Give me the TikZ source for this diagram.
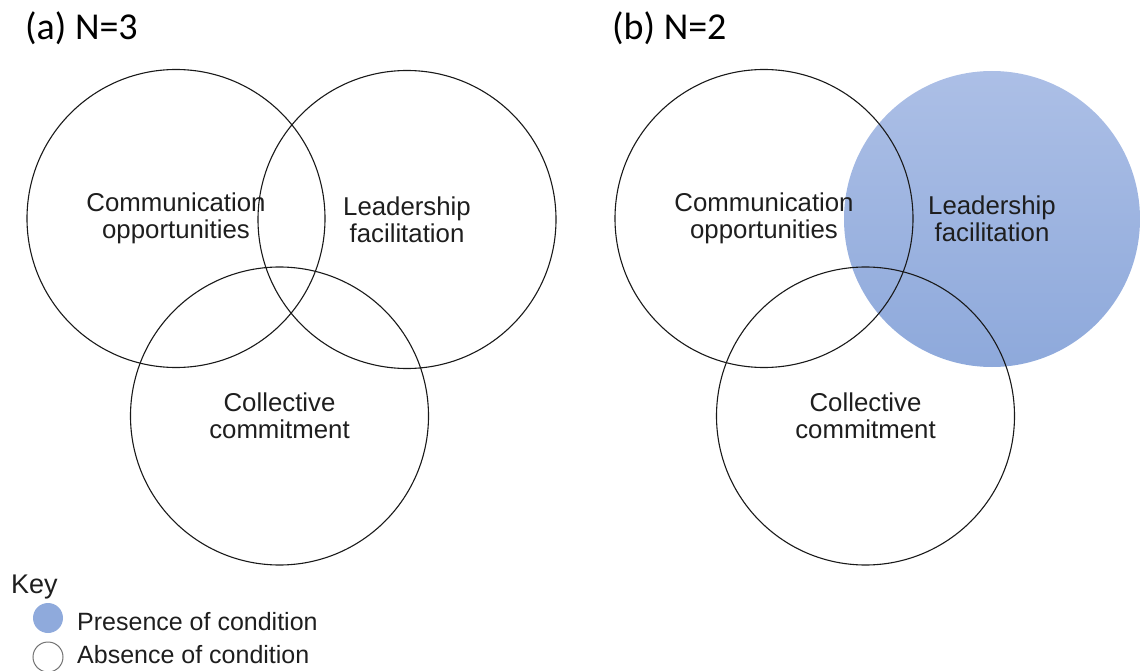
\documentclass[tikz,border=0pt]{standalone}
\usepackage{fontspec}
\setmainfont{Liberation Sans}
\newfontfamily\titlefont{Carlito}
\definecolor{txt}{HTML}{1E1E1E}
\definecolor{bluetop}{HTML}{ACBFE6}
\definecolor{bluebot}{HTML}{8EA9DB}
\definecolor{keyblue}{HTML}{8FAADC}
\begin{document}
\begin{tikzpicture}[x=1pt,y=-1pt,
  venn/.style={circle,draw=black!90,line width=1.1pt,minimum size=298pt,inner sep=0pt,
    text=txt,align=center,font=\fontsize{25.8}{27}\selectfont},
  filledvenn/.style={circle,minimum size=296pt,inner sep=0pt,top color=bluetop,bottom color=bluebot,draw=none,
    text=txt,align=center,font=\fontsize{25.8}{27}\selectfont},
  ttl/.style={anchor=base west,inner sep=0pt,font=\titlefont\fontsize{38}{40}\selectfont,text=black},
  keytxt/.style={anchor=base west,inner sep=0pt,font=\fontsize{25}{27}\selectfont,text=txt},
  keydot/.style={circle,minimum size=30pt,inner sep=0pt}]
\useasboundingbox (0,0) rectangle (1141,671);
% panel (a)
\node[ttl] (ta) at (25,40) {(a) N=3};
\node[venn] (a1) at (176,218.5) {Communication\\opportunities};
\node[venn] (a2) at (407,219.5) {Leadership\\facilitation};
\node[venn] (a3) at (279.5,416) {Collective\\commitment};
% panel (b)
\node[ttl] (tb) at (612,40) {(b) N=2};
\node[filledvenn] (b2) at (992,219) {Leadership\\facilitation};
\node[venn] (b1) at (764,218.5) {Communication\\opportunities};
\node[venn] (b3) at (865.5,416) {Collective\\commitment};
% key
\node[keytxt,font=\fontsize{27}{29}\selectfont] (key) at (11,593) {Key};
\node[keydot,fill=keyblue] (kp) at (48,618) {};
\node[keytxt] (kpt) at (77,630) {Presence of condition};
\node[keydot,draw=black!55,line width=1pt] (ka) at (48,657) {};
\node[keytxt] (kat) at (77,663) {Absence of condition};
\end{tikzpicture}
\end{document}
